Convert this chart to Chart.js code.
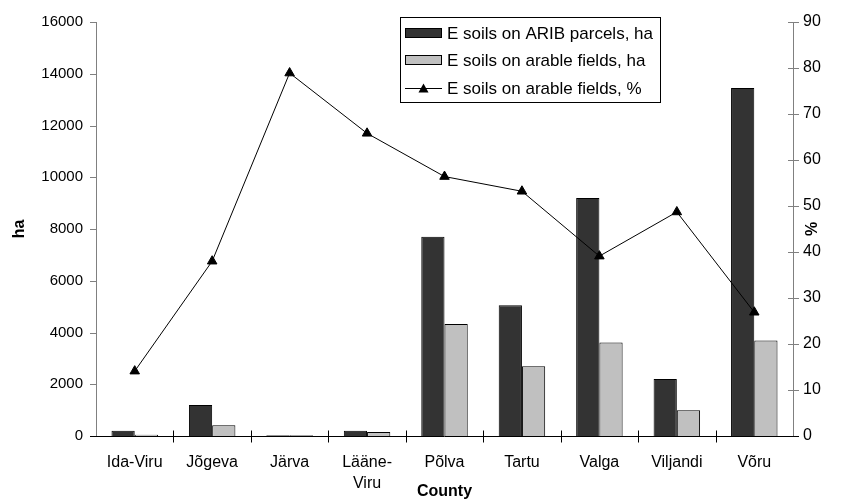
<!DOCTYPE html>
<html><head><meta charset="utf-8">
<script src="https://cdn.jsdelivr.net/npm/chart.js@4"></script>
<style>html,body{margin:0;padding:0;background:#fff}#wrap{width:846px;height:501px}</style>
</head><body><div id="wrap"><canvas id="c" width="846" height="501"></canvas></div>
<script>
const categories = ["Ida-Viru", "Jõgeva", "Järva", ["Lääne-", "Viru"], "Põlva", "Tartu", "Valga", "Viljandi", "Võru"];
const aribHa = [200, 1200, 30, 200, 7700, 5050, 9200, 2200, 13450];
const arableHa = [50, 420, 25, 150, 4330, 2700, 3610, 1000, 3690];
const arablePct = [14.1, 38.0, 78.9, 65.8, 56.4, 53.2, 39.1, 48.7, 26.9];
const leftTicks = [0, 2000, 4000, 6000, 8000, 10000, 12000, 14000, 16000];
const rightTicks = [0, 10, 20, 30, 40, 50, 60, 70, 80, 90];
const seriesNames = ["E soils on ARIB parcels, ha", "E soils on arable fields, ha", "E soils on arable fields, %"];

const FONT = "Liberation Sans, Arial, sans-serif";
const FS = 15;

const deco = {
  id: 'deco',
  afterDraw(chart) {
    const ctx = chart.ctx, a = chart.chartArea;
    const x = chart.scales.x, y = chart.scales.y, y1 = chart.scales.y1;
    ctx.save();
    ctx.strokeStyle = '#808080'; ctx.lineWidth = 1;
    ctx.beginPath();
    ctx.moveTo(a.left + 0.5, a.top); ctx.lineTo(a.left + 0.5, a.bottom);
    ctx.moveTo(a.right + 0.5, a.top); ctx.lineTo(a.right + 0.5, a.bottom);
    leftTicks.forEach(v => { const p = Math.round(y.getPixelForValue(v)) + 0.5; ctx.moveTo(a.left - 6, p); ctx.lineTo(a.left + 0.5, p); });
    rightTicks.forEach(v => { const p = Math.round(y1.getPixelForValue(v)) + 0.5; ctx.moveTo(a.right - 5, p); ctx.lineTo(a.right + 6, p); });
    ctx.stroke();
    ctx.strokeStyle = '#000';
    ctx.beginPath();
    const yb = Math.round(a.bottom) + 0.5;
    ctx.moveTo(a.left - 6, yb); ctx.lineTo(a.right + 6, yb);
    for (let i = 1; i < categories.length; i++) {
      const p = Math.round((x.getPixelForValue(i - 1) + x.getPixelForValue(i)) / 2) + 0.5;
      ctx.moveTo(p, yb - 6); ctx.lineTo(p, yb + 6);
    }
    ctx.stroke();
    ctx.fillStyle = '#000';
    ctx.font = 'bold 16px ' + FONT;
    ctx.textAlign = 'center'; ctx.textBaseline = 'middle';
    ctx.fillText('County', (a.left + a.right) / 2, 492);
    ctx.save(); ctx.translate(20, (a.top + a.bottom) / 2); ctx.rotate(-Math.PI / 2); ctx.fillText('ha', 0, 0); ctx.restore();
    ctx.save(); ctx.translate(813, (a.top + a.bottom) / 2); ctx.rotate(-Math.PI / 2); ctx.fillText('%', 0, 0); ctx.restore();
    const lx = 400, ly = 17, lw = 260, lh = 85;
    ctx.fillStyle = '#fff'; ctx.fillRect(lx, ly, lw, lh);
    ctx.strokeStyle = '#000'; ctx.strokeRect(lx + 0.5, ly + 0.5, lw, lh);
    const rows = [33, 60, 88];
    const ds = chart.data.datasets;
    ctx.font = '17px ' + FONT; ctx.textAlign = 'left';
    for (let i = 0; i < 3; i++) {
      const cy = rows[i];
      if (i < 2) {
        ctx.fillStyle = ds[i].backgroundColor; ctx.fillRect(405.5, cy - 4.5, 36, 9);
        ctx.strokeStyle = '#000'; ctx.strokeRect(405.5, cy - 4.5, 36, 9);
      } else {
        ctx.strokeStyle = '#000'; ctx.beginPath(); ctx.moveTo(405, cy + 0.5); ctx.lineTo(442, cy + 0.5); ctx.stroke();
        ctx.fillStyle = '#000'; ctx.beginPath(); ctx.moveTo(423.5, cy - 4.5); ctx.lineTo(428.5, cy + 4.5); ctx.lineTo(418.5, cy + 4.5); ctx.closePath(); ctx.fill();
      }
      ctx.fillStyle = '#000'; ctx.fillText(seriesNames[i], 447, cy + 1);
    }
    ctx.restore();
  }
};

new Chart(document.getElementById('c'), {
  data: {
    labels: categories,
    datasets: [
      { type: 'bar', label: seriesNames[0], data: aribHa, yAxisID: 'y', backgroundColor: '#333333', borderColor: '#000', borderWidth: 1, order: 2, categoryPercentage: 0.6, barPercentage: 1.0 },
      { type: 'bar', label: seriesNames[1], data: arableHa, yAxisID: 'y', backgroundColor: '#c0c0c0', borderColor: '#000', borderWidth: 1, order: 2, categoryPercentage: 0.6, barPercentage: 1.0 },
      { type: 'line', label: seriesNames[2], data: arablePct, yAxisID: 'y1', borderColor: '#000', borderWidth: 1, backgroundColor: '#000', pointStyle: 'triangle', pointRadius: 5.5, pointBackgroundColor: '#000', pointBorderColor: '#000', tension: 0, order: 1 }
    ]
  },
  options: {
    responsive: false, animation: false, devicePixelRatio: 1,
    layout: { padding: { top: 15, left: 0, right: 0, bottom: 0 } },
    plugins: { legend: { display: false }, tooltip: { enabled: false } },
    scales: {
      x: {
        offset: true,
        grid: { display: false, drawTicks: false },
        border: { display: false },
        ticks: { color: '#000', font: { family: FONT, size: 16, lineHeight: 1.3 }, padding: 16, maxRotation: 0, autoSkip: false },
        afterFit(s) { s.height = 65; }
      },
      y: {
        position: 'left', min: 0, max: 16000,
        afterBuildTicks(s) { s.ticks = leftTicks.map(v => ({ value: v })); },
        grid: { display: false, drawTicks: false },
        border: { display: false },
        ticks: { color: '#000', font: { family: FONT, size: FS }, padding: 13, callback: v => String(v) },
        afterFit(s) { s.width = 96; }
      },
      y1: {
        position: 'right', min: 0, max: 90,
        afterBuildTicks(s) { s.ticks = rightTicks.map(v => ({ value: v })); },
        grid: { display: false, drawTicks: false },
        border: { display: false },
        ticks: { color: '#000', font: { family: FONT, size: 16 }, padding: 10, callback: v => String(v) },
        afterFit(s) { s.width = 53; }
      }
    }
  },
  plugins: [deco]
});
</script></body></html>
